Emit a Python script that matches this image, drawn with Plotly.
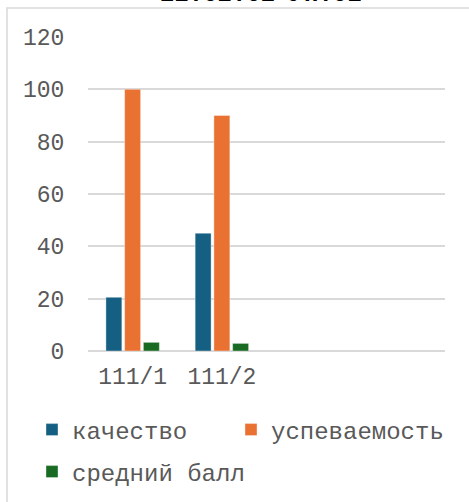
import plotly.graph_objects as go

categories = ["111/1", "111/2"]
kachestvo = [20.5, 45]
uspevaemost = [100, 90]
sredniy_ball = [3.3, 2.9]
series_names = ["качество", "успеваемость", "средний балл"]
colors = ["#156082", "#E97132", "#196B24"]
title_text = "22.02.02 УП.01"

W, H = 469, 502
L, R, T, B = 88, 24, 37, 150.5
pw = W - L - R
ph = H - T - B

def px_x(x):
    return (x - L) / pw

def px_y(y):
    return (H - B - y) / ph

font_fam = "Liberation Mono"

fig = go.Figure()
legends = ["legend", "legend2", "legend3"]
for name, vals, col, lg in zip(series_names, [kachestvo, uspevaemost, sredniy_ball], colors, legends):
    fig.add_trace(go.Bar(
        x=categories, y=vals, name=name, legend=lg,
        marker=dict(color=col, line=dict(color="rgba(255,255,255,0.6)", width=0.6)),
    ))

leg_common = dict(
    orientation="h", xref="container", yref="container",
    xanchor="left", yanchor="middle",
    font=dict(family=font_fam, size=24, color="#595959"),
    bgcolor="rgba(0,0,0,0)", itemwidth=30,
)

fig.update_layout(
    width=W, height=H,
    margin=dict(l=L, r=R, t=T, b=B, autoexpand=False),
    paper_bgcolor="white", plot_bgcolor="white",
    barmode="group", bargap=0.37, bargroupgap=0.15,
    showlegend=True,
    legend=dict(x=32 / W, y=(H - 430) / H, **leg_common),
    legend2=dict(x=231 / W, y=(H - 430) / H, **leg_common),
    legend3=dict(x=32 / W, y=(H - 472) / H, **leg_common),
    xaxis=dict(
        type="category", range=[-0.5, 3.5],
        showgrid=False, showline=False, zeroline=False,
        ticks="outside", ticklen=4, tickcolor="rgba(0,0,0,0)",
        tickfont=dict(family=font_fam, size=23, color="#595959"),
    ),
    yaxis=dict(
        range=[0, 120], tickvals=[0, 20, 40, 60, 80, 100, 120],
        showgrid=True, gridcolor="#d9d9d9", gridwidth=1.5,
        zeroline=True, zerolinecolor="#d9d9d9", zerolinewidth=1.5,
        showline=False,
        ticks="outside", ticklen=18, tickcolor="rgba(0,0,0,0)",
        tickfont=dict(family=font_fam, size=23, color="#595959"),
    ),
    shapes=[dict(
        type="rect", xref="paper", yref="paper",
        x0=px_x(7), x1=px_x(475), y0=px_y(530), y1=px_y(8),
        line=dict(color="#d9d9d9", width=1.5), fillcolor="rgba(0,0,0,0)", layer="below",
    )],
    annotations=[dict(
        text="<b>" + title_text + "</b>", xref="paper", yref="paper",
        x=px_x(261), y=px_y(9.5), xanchor="center", yanchor="bottom",
        showarrow=False, font=dict(family=font_fam, size=24, color="black"),
    )],
)

fig.write_html("out.html", config={"displayModeBar": False},
               post_script="document.body.style.margin='0px';")
